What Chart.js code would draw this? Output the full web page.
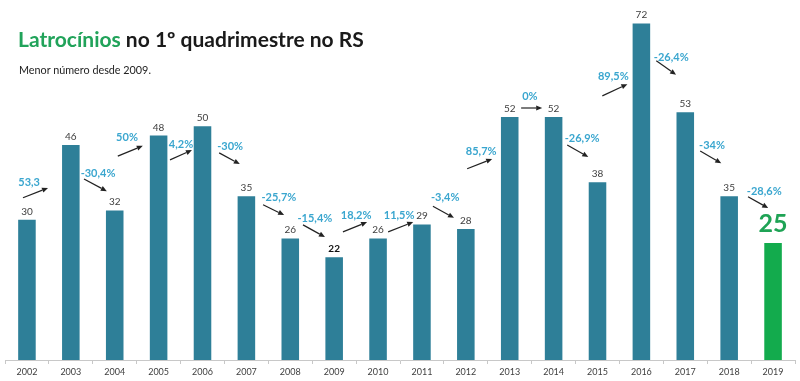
<!DOCTYPE html>
<html>
<head>
<meta charset="utf-8">
<script src="https://cdn.jsdelivr.net/npm/chart.js@4"></script>
<style>
    body { margin: 0; background: #fff; }
    #wrap { position: relative; width: 800px; height: 381px; overflow: hidden; }
    #title { position: absolute; left: 18px; top: 28px; font: bold 21px Lato, sans-serif; line-height: 21px; color: #1a1a1a; white-space: nowrap; }
    #title span { color: #21a35a; }
    #subtitle { position: absolute; left: 19px; top: 64px; font: 10.8px Lato, sans-serif; line-height: 11px; color: #222; white-space: nowrap; }
    canvas { position: absolute; left: 0; top: 0; }
</style>
</head>
<body>
<div id="wrap">
    <canvas id="chart" width="800" height="381"></canvas>
    <div id="title"><span>Latrocínios</span> no 1º quadrimestre no RS</div>
    <div id="subtitle">Menor número desde 2009.</div>
</div>
<script>
const years = ['2002', '2003', '2004', '2005', '2006', '2007', '2008', '2009', '2010',
    '2011', '2012', '2013', '2014', '2015', '2016', '2017', '2018', '2019'];
const counts = [30, 46, 32, 48, 50, 35, 26, 22, 26, 29, 28, 52, 52, 38, 72, 53, 35, 25];
const changes = ['53,3', '-30,4%', '50%', '4,2%', '-30%', '-25,7%', '-15,4%', '18,2%', '11,5%',
    '-3,4%', '85,7%', '0%', '-26,9%', '89,5%', '-26,4%', '-34%', '-28,6%'];

// onde ficam as setas e os textos de variação (x em categorias, y em valores)
const arrowFrom = [[-0.09, 34.7], [1.30, 38.7], [2.07, 43.6], [3.26, 42.8], [4.38, 44.3], [5.38, 33.2],
    [6.29, 28.9], [7.20, 27.4], [8.23, 27.4], [9.25, 32.9], [10.03, 40.9], [11.26, 53.9],
    [12.31, 46.0], [13.11, 56.5], [14.34, 64.0], [15.34, 44.7], [16.43, 34.9]];
const arrowTo = [[0.48, 36.8], [1.82, 36.1], [2.64, 45.8], [3.76, 44.9], [4.85, 41.9], [5.86, 31.0],
    [6.79, 26.3], [7.75, 29.5], [8.80, 29.5], [9.73, 30.4], [10.60, 43.0], [11.74, 53.9],
    [12.79, 43.4], [13.68, 59.0], [14.79, 61.0], [15.82, 42.1], [16.89, 32.5]];
const labelAt = [[0.05, 37.9], [1.62, 40.0], [2.28, 47.5], [3.51, 46.2], [4.63, 45.6], [5.74, 34.7],
    [6.56, 30.2], [7.50, 31.0], [8.48, 31.0], [9.53, 34.7], [10.35, 44.7], [11.46, 56.3],
    [12.65, 47.3], [13.36, 60.7], [14.68, 64.8], [15.61, 45.8], [16.80, 36.1]];

const boldYear = '2009';
const lastIdx = years.length - 1;

function catPx(xScale, c) {
    const step = xScale.getPixelForValue(1) - xScale.getPixelForValue(0);
    return xScale.getPixelForValue(0) + c * step;
}

const annotations = {
    id: 'annotations',
    afterDatasetsDraw(chart) {
        const ctx = chart.ctx;
        const xs = chart.scales.x;
        const ys = chart.scales.y;
        const meta = chart.getDatasetMeta(0);

        ctx.save();
        ctx.textAlign = 'center';

        // valores em cima das barras
        meta.data.forEach((bar, i) => {
            if (i === lastIdx) {
                ctx.font = 'bold 25px Lato, sans-serif';
                ctx.fillStyle = '#1fa355';
                ctx.textBaseline = 'alphabetic';
                ctx.fillText(counts[i], bar.x, bar.y - 11);
            } else {
                ctx.font = (years[i] === boldYear ? 'bold ' : '') + '10px Lato, sans-serif';
                ctx.fillStyle = years[i] === boldYear ? '#111' : '#404040';
                ctx.textBaseline = 'alphabetic';
                ctx.fillText(counts[i], bar.x, bar.y - 5);
            }
        });

        // variações
        ctx.font = 'bold 11px Lato, sans-serif';
        ctx.fillStyle = '#3aa6cf';
        ctx.textBaseline = 'middle';
        changes.forEach((txt, i) => {
            ctx.fillText(txt, catPx(xs, labelAt[i][0]), ys.getPixelForValue(labelAt[i][1]));
        });

        // setas
        ctx.strokeStyle = '#222';
        ctx.fillStyle = '#222';
        ctx.lineWidth = 1.2;
        changes.forEach((txt, i) => {
            const x0 = catPx(xs, arrowFrom[i][0]), y0 = ys.getPixelForValue(arrowFrom[i][1]);
            const x1 = catPx(xs, arrowTo[i][0]), y1 = ys.getPixelForValue(arrowTo[i][1]);
            const a = Math.atan2(y1 - y0, x1 - x0);
            const hl = 6, hw = 2.6;
            const bx = x1 - hl * Math.cos(a), by = y1 - hl * Math.sin(a);
            ctx.beginPath();
            ctx.moveTo(x0, y0);
            ctx.lineTo(bx, by);
            ctx.stroke();
            ctx.beginPath();
            ctx.moveTo(x1, y1);
            ctx.lineTo(bx + hw * Math.sin(a), by - hw * Math.cos(a));
            ctx.lineTo(bx - hw * Math.sin(a), by + hw * Math.cos(a));
            ctx.closePath();
            ctx.fill();
        });
        ctx.restore();
    }
};

new Chart(document.getElementById('chart').getContext('2d'), {
    type: 'bar',
    data: {
        labels: years,
        datasets: [{
            data: counts,
            backgroundColor: years.map((y, i) => i === lastIdx ? '#13ab4d' : '#2e7f98'),
            barPercentage: 0.4,
            categoryPercentage: 1.0
        }]
    },
    options: {
        responsive: false,
        animation: false,
        layout: { padding: { left: 5, right: 5, top: 0, bottom: 0 } },
        plugins: {
            legend: { display: false },
            tooltip: { enabled: false }
        },
        scales: {
            x: {
                grid: {
                    offset: true,
                    drawOnChartArea: false,
                    tickLength: 4,
                    color: '#c8c8c8'
                },
                border: { color: '#c8c8c8' },
                ticks: {
                    color: '#404040',
                    padding: 3,
                    font: { family: 'Lato, sans-serif', size: 9 }
                },
                afterFit(scale) {
                    scale.height = 21;
                }
            },
            y: {
                display: false,
                min: 0,
                max: 77
            }
        }
    },
    plugins: [annotations]
});
</script>
</body>
</html>
